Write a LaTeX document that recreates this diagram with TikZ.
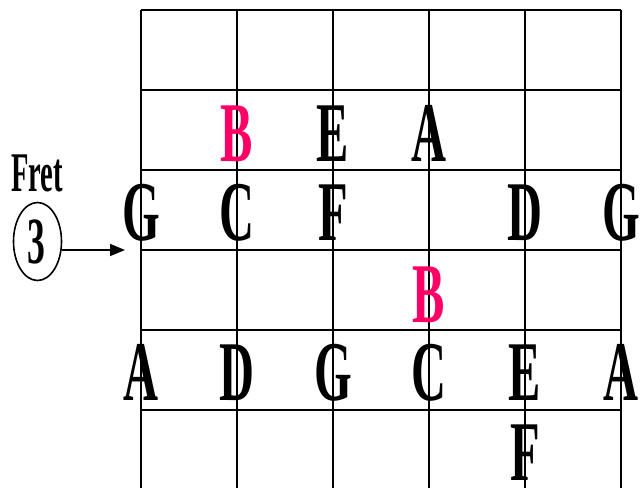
\documentclass[tikz,border=0pt]{standalone}
\usepackage{fontspec}
\setmainfont{Liberation Serif}
\usetikzlibrary{shapes.geometric,arrows.meta}
\definecolor{notepink}{RGB}{255,0,102}
\tikzset{
  note/.style={anchor=base, inner sep=0pt, font=\fontsize{85}{85}\selectfont\bfseries},
  pinknote/.style={note, text=notepink},
  gridline/.style={line width=2.2pt, black},
}
\newcommand{\nt}[1]{\scalebox{0.57}[1]{#1}}
\begin{document}
\begin{tikzpicture}[x=1pt,y=-1pt]
\useasboundingbox (0,0) rectangle (640,488);
% grid
\foreach \yy in {10,90,170,250,330,410} \draw[gridline] (141,\yy) -- (621,\yy);
\foreach \xx in {141,237,333,429,525,621} \draw[gridline] (\xx,10) -- (\xx,488);
% row 2
\node[pinknote] (b1) at (237,161) {\nt{B}};
\node[note] (e1) at (333,161) {\nt{E}};
\node[note] (a1) at (429,161) {\nt{A}};
% row 3
\node[note] (g1) at (141,240) {\nt{G}};
\node[note] (c1) at (237,240) {\nt{C}};
\node[note] (f1) at (333,240) {\nt{F}};
\node[note] (d1) at (525,240) {\nt{D}};
\node[note] (g2) at (621,240) {\nt{G}};
% row 4
\node[pinknote] (b2) at (429,322) {\nt{B}};
% row 5
\node[note] (a2) at (141,400) {\nt{A}};
\node[note] (d2) at (237,400) {\nt{D}};
\node[note] (g3) at (333,400) {\nt{G}};
\node[note] (c2) at (429,400) {\nt{C}};
\node[note] (e2) at (525,400) {\nt{E}};
\node[note] (a3) at (621,400) {\nt{A}};
% row 6
\node[note] (f2) at (525,480) {\nt{F}};
% fret label
\node[anchor=base, inner sep=0pt, font=\fontsize{56}{56}\selectfont\bfseries] (fret) at (37,191) {\scalebox{0.51}[1]{Fret}};
\node[draw, ellipse, line width=1.6pt, minimum width=48, minimum height=78, inner sep=0pt] (circ) at (37.5,241.5) {};
\node[anchor=base, inner sep=0pt, font=\fontsize{66}{66}\selectfont\bfseries] (three) at (36.5,263) {\scalebox{0.54}[1]{3}};
\coordinate (tip) at (125,250);
\draw[line width=1.6pt, -{Triangle[length=15pt,width=12pt]}] (circ.east |- tip) -- (tip);
\end{tikzpicture}
\end{document}
